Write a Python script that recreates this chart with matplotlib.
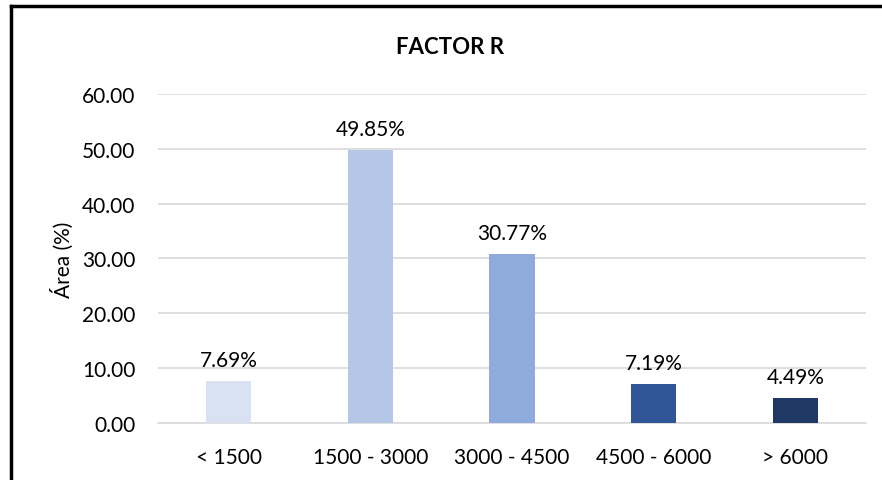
import matplotlib.pyplot as plt
from matplotlib.lines import Line2D

categories = ["< 1500", "1500 - 3000", "3000 - 4500", "4500 - 6000", "> 6000"]
area_pct = [7.69, 49.85, 30.77, 7.19, 4.49]
bar_colors = ["#D9E2F3", "#B4C7E7", "#8FAADC", "#2F5597", "#203864"]
yticks = [0, 10, 20, 30, 40, 50, 60]

plt.rcParams["font.family"] = ["Lato", "DejaVu Sans"]

fig = plt.figure(figsize=(8.82, 4.81), dpi=100)
ax = fig.add_axes([0.179, 0.1185, 0.803, 0.684])

x = range(len(categories))
ax.bar(x, area_pct, width=0.32, color=bar_colors, zorder=3)
for i, v in enumerate(area_pct):
    ax.text(i, v + 2.0, f"{v:.2f}%", ha="center", va="bottom", fontsize=15)

ax.set_xlim(-0.5, len(categories) - 0.5)
ax.set_ylim(0, 60)
ax.set_yticks(yticks)
ax.set_yticklabels([f"{t:.2f}" for t in yticks], fontsize=15)
ax.set_xticks(list(x))
ax.set_xticklabels(categories, fontsize=15)
ax.tick_params(axis="y", length=0, pad=16)
ax.tick_params(axis="x", length=0, pad=17)
ax.grid(axis="y", color="#D9D9D9", linewidth=1.2, zorder=0)
for s in ["top", "right", "left"]:
    ax.spines[s].set_visible(False)
ax.spines["bottom"].set_color("#D9D9D9")
ax.spines["bottom"].set_linewidth(1.2)
ax.set_ylabel("Área (%)", fontsize=15, labelpad=6)

fig.text(0.51, 0.902, "FACTOR R", ha="center", va="center", fontsize=16, fontweight="bold")

# outer frame (cut off at right and bottom in the original)
fig.add_artist(Line2D([11 / 882, 11 / 882], [0, 1 - 7 / 481], color="black", linewidth=2.5))
fig.add_artist(Line2D([11 / 882, 1], [1 - 7 / 481, 1 - 7 / 481], color="black", linewidth=2.5))

fig.savefig("out.png", dpi=100)
